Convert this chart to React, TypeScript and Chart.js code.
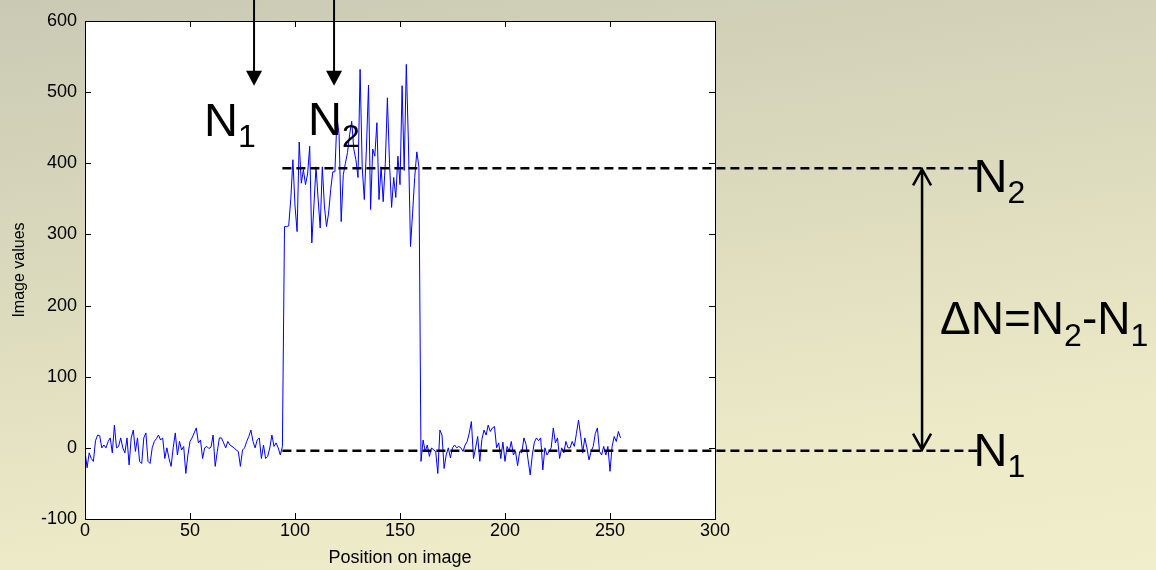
import React, { useEffect, useRef } from "react";
import { Chart, registerables } from "chart.js";

Chart.register(...registerables);

// ---- data ----
const backgroundLeft = [
  -5, -28, -7, -15, -19, 10, 18, 17, 0, 4,
  0, 9, 14, -7, 32, 0, 2, 14, 0, -7,
  14, -24, 14, 25, -5, 14, -19, -22, 14, 21,
  -19, -22, 0, 9, 13, 18, 11, 14, -15, 0,
  -15, -26, 0, 21, -10, 9, -3, 2, -36, -10,
  9, 14, 21, 28, 7, 11, -15, 0, 2, -1,
  1, 18, -26, -5, 14, 14, 7, 0, 9, 4,
  2, 0, -3, -5, -26, -3, 0, 9, 16, 25,
  9, 0, 11, 14, -15, 4, -15, -12, 0, 18,
  2, 7, 0, -10, 2,
];
const objectRegion = [
  311, 311, 312, 350, 405, 340, 304, 430, 372, 391,
  370, 385, 424, 288, 340, 395, 350, 309, 395, 340,
  311, 330, 363, 388, 388, 465, 440, 318, 384, 400,
  415, 440, 459, 420, 405, 380, 532, 395, 349, 420,
  510, 335, 420, 410, 457, 349, 395, 346, 400, 492,
  400, 338, 380, 352, 410, 370, 509, 390, 539, 430,
  283, 330, 380, 416, 395,
];
const backgroundRight = [
  -19, 11, -5, 4, -12, 0, -3, -5, -36, 25,
  18, -29, -10, 0, -14, 0, 4, 0, 2, 0,
  -5, 4, 9, 21, 37, -15, 0, 16, -19, 12,
  25, 18, 32, 23, 28, 30, 0, 7, -15, 8,
  -19, 2, -5, 9, -10, -5, -25, -5, -7, 14,
  5, -17, -38, -10, 8, 14, 10, 14, -31, 0,
  -10, -5, 0, 28, 7, 14, -15, 0, -7, 9,
  0, 0, 9, 2, 20, 39, 18, -7, 14, 0,
  -17, -5, 2, 20, 28, -5, -10, 2, -10, 2,
  -33, 2, 16, 9, 23, 14,
];
const imageValues = [...backgroundLeft, ...objectRegion, ...backgroundRight];
const positions = imageValues.map((_, i) => i);

const xTickValues = [0, 50, 100, 150, 200, 250, 300];
const yTickValues = [-100, 0, 100, 200, 300, 400, 500, 600];

// annotation levels (data units)
const N1_LEVEL = -4;
const N2_LEVEL = 393;
const DASH_FROM = 94;
const DASH_TO = 425;
const ARROW_XS = [80.5, 118.6];
const ARROW_TIP = 509;
const ARROW_TOP = 632;
const DELTA_X = 398.6;

const FONT = '"Liberation Sans", Arial, Helvetica, sans-serif';

type Part = [string, boolean];

function drawParts(ctx: CanvasRenderingContext2D, parts: Part[], x: number, base: number, big: number, small: number, drop: number) {
  let cx = x;
  for (const [t, sub] of parts) {
    ctx.font = `${sub ? small : big}px ${FONT}`;
    ctx.fillText(t, cx, sub ? base + drop : base);
    cx += ctx.measureText(t).width;
  }
}

const whiteArea = {
  id: "whiteArea",
  beforeDraw(chart: any) {
    const { ctx, chartArea: a } = chart;
    ctx.save();
    ctx.fillStyle = "#ffffff";
    ctx.fillRect(a.left, a.top, a.right - a.left, a.bottom - a.top);
    ctx.restore();
  },
};

const overlay = {
  id: "overlay",
  afterDatasetsDraw(chart: any) {
    const { ctx, chartArea: a } = chart;
    const xs = chart.scales.x;
    const ys = chart.scales.y;
    ctx.save();
    // box
    ctx.strokeStyle = "#000";
    ctx.lineWidth = 1;
    ctx.setLineDash([]);
    ctx.strokeRect(Math.round(a.left) + 0.5, Math.round(a.top) + 0.5, Math.round(a.right - a.left), Math.round(a.bottom - a.top));
    // inward ticks on all sides
    const TL = 6;
    ctx.beginPath();
    xTickValues.forEach((v) => {
      const px = Math.round(xs.getPixelForValue(v)) + 0.5;
      ctx.moveTo(px, a.bottom);
      ctx.lineTo(px, a.bottom - TL);
      ctx.moveTo(px, a.top);
      ctx.lineTo(px, a.top + TL);
    });
    yTickValues.forEach((v) => {
      const py = Math.round(ys.getPixelForValue(v)) + 0.5;
      ctx.moveTo(a.left, py);
      ctx.lineTo(a.left + TL, py);
      ctx.moveTo(a.right, py);
      ctx.lineTo(a.right - TL, py);
    });
    ctx.stroke();

    // dashed levels
    ctx.lineWidth = 2.4;
    ctx.setLineDash([9, 5]);
    [N1_LEVEL, N2_LEVEL].forEach((lv) => {
      const py = ys.getPixelForValue(lv);
      ctx.beginPath();
      ctx.moveTo(xs.getPixelForValue(DASH_FROM), py);
      ctx.lineTo(xs.getPixelForValue(DASH_TO), py);
      ctx.stroke();
    });
    ctx.setLineDash([]);

    // top arrows
    ctx.fillStyle = "#000";
    ctx.lineWidth = 2;
    ARROW_XS.forEach((v) => {
      const px = xs.getPixelForValue(v);
      const tip = ys.getPixelForValue(ARROW_TIP);
      const top = ys.getPixelForValue(ARROW_TOP);
      ctx.beginPath();
      ctx.moveTo(px, top);
      ctx.lineTo(px, tip - 10);
      ctx.stroke();
      ctx.beginPath();
      ctx.moveTo(px - 8, tip - 15);
      ctx.lineTo(px + 8, tip - 15);
      ctx.lineTo(px, tip);
      ctx.closePath();
      ctx.fill();
    });

    // double arrow for delta N
    const dx = xs.getPixelForValue(DELTA_X);
    const y2 = ys.getPixelForValue(N2_LEVEL);
    const y1 = ys.getPixelForValue(N1_LEVEL);
    ctx.lineWidth = 2.5;
    ctx.beginPath();
    ctx.moveTo(dx, y2 + 1);
    ctx.lineTo(dx, y1 - 1);
    ctx.moveTo(dx - 9, y2 + 17);
    ctx.lineTo(dx, y2 + 1);
    ctx.lineTo(dx + 9, y2 + 17);
    ctx.moveTo(dx - 9, y1 - 17);
    ctx.lineTo(dx, y1 - 1);
    ctx.lineTo(dx + 9, y1 - 17);
    ctx.stroke();

    // labels
    ctx.fillStyle = "#000";
    ctx.textBaseline = "alphabetic";
    ctx.textAlign = "left";
    const tipY = ys.getPixelForValue(ARROW_TIP);
    const a1 = xs.getPixelForValue(ARROW_XS[0]);
    const a2 = xs.getPixelForValue(ARROW_XS[1]);
    drawParts(ctx, [["N", false], ["1", true]], a1 - 50, tipY + 50, 47, 32, 11);
    drawParts(ctx, [["N", false], ["2", true]], a2 - 26, tipY + 49, 47, 32, 12);
    const rx = xs.getPixelForValue(DASH_TO) - 4;
    drawParts(ctx, [["N", false], ["2", true]], rx, y2 + 24, 47, 32, 11);
    drawParts(ctx, [["N", false], ["1", true]], rx, y1 + 15, 47, 32, 11);
    drawParts(
      ctx,
      [["\u0394N=N", false], ["2", true], ["-N", false], ["1", true]],
      dx + 18,
      (y1 + y2) / 2 + 25,
      46,
      32,
      12
    );
    ctx.restore();
  },
};

export default function App() {
  const ref = useRef<HTMLCanvasElement | null>(null);
  useEffect(() => {
    if (!ref.current) return;
    const tickFont = { family: FONT, size: 18 };
    const chart = new Chart(ref.current, {
      type: "line",
      data: {
        datasets: [
          {
            data: positions.map((p, i) => ({ x: p, y: imageValues[i] })),
            borderColor: "#0000ff",
            borderWidth: 1,
            pointRadius: 0,
            tension: 0,
            fill: false,
          },
        ],
      },
      options: {
        animation: false,
        responsive: false,
        events: [],
        layout: { padding: { top: 21, right: 441, left: 0, bottom: 0 } },
        plugins: { legend: { display: false }, tooltip: { enabled: false } },
        scales: {
          x: {
            type: "linear",
            min: 0,
            max: 300,
            afterBuildTicks: (s: any) => {
              s.ticks = xTickValues.map((v) => ({ value: v }));
            },
            ticks: { color: "#000", font: tickFont, padding: 1, maxRotation: 0, autoSkip: false },
            grid: { display: false, drawTicks: false },
            border: { display: false },
            title: { display: true, text: "Position on image", color: "#000", font: { family: FONT, size: 18 }, padding: { top: 0, bottom: 1 } },
            afterFit: (s: any) => {
              s.height = 51;
            },
          },
          y: {
            type: "linear",
            min: -100,
            max: 600,
            afterBuildTicks: (s: any) => {
              s.ticks = yTickValues.map((v) => ({ value: v }));
            },
            ticks: { color: "#000", font: tickFont, padding: 8, autoSkip: false },
            grid: { display: false, drawTicks: false },
            border: { display: false },
            title: { display: true, text: "Image values", color: "#000", font: { family: FONT, size: 16 }, padding: { top: 10, bottom: 0 } },
            afterFit: (s: any) => {
              s.width = 85;
            },
          },
        },
      },
      plugins: [whiteArea, overlay],
    });
    return () => chart.destroy();
  }, []);

  return (
    <div
      style={{
        position: "fixed",
        left: 0,
        top: 0,
        width: 1156,
        height: 570,
        background: "linear-gradient(172deg, #cac9b4 0%, #dcdabd 40%, #ebe9c6 75%, #f0eecb 100%)",
      }}
    >
      <canvas ref={ref} width={1156} height={570} style={{ display: "block" }} />
    </div>
  );
}
